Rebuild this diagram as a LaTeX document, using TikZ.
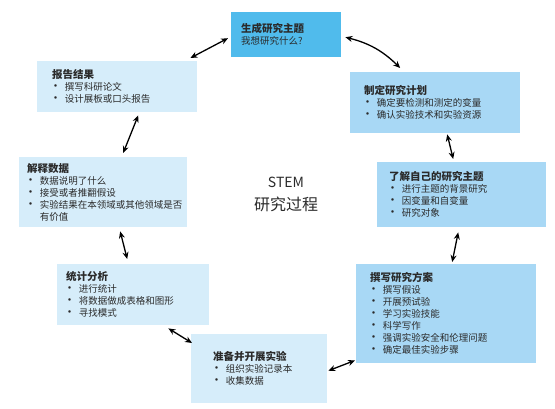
\documentclass[tikz,border=0pt]{standalone}
\usepackage{fontspec}
\setmainfont{Noto Sans CJK SC}
\usepackage{xcolor}
\usetikzlibrary{arrows.meta,calc}

\definecolor{topicblue}{HTML}{50BBEC}
\definecolor{midblue}{HTML}{A8D8F5}
\definecolor{paleblue}{HTML}{D6EDFA}
\definecolor{txtgray}{HTML}{2A2A2A}

\newcommand{\hd}[1]{{\fontsize{10.5}{12}\selectfont\bfseries #1}}
\newcommand{\itm}{\mbox{\kern-2.5pt\fontsize{12}{12}\selectfont\textbullet}~}

\begin{document}
\begin{tikzpicture}[x=1pt, y=-1pt,
  box/.style={anchor=north west, align=left, inner ysep=2pt, text=txtgray,
    font=\fontsize{9.5}{12}\selectfont},
  dbl/.style={{Stealth[length=7pt,width=6pt]}-{Stealth[length=7pt,width=6pt]}, line width=1.3pt, black}]
  \useasboundingbox (0,0) rectangle (555,408);
  % boxes of the cycle
  \node[box, fill=topicblue, text width=90pt, inner xsep=10pt, minimum height=45pt] (topic) at (231,12)
    {\hd{生成研究主题}\\我想研究什么?};
  \node[box, fill=midblue, text width=142pt, inner xsep=14pt, minimum height=61pt] (plan) at (350,72)
    {\hd{制定研究计划}\\\itm 确定要检测和测定的变量\\\itm 确认实验技术和实验资源};
  \node[box, fill=midblue, text width=145pt, inner xsep=12pt, minimum height=65pt] (study) at (377,162)
    {\hd{了解自己的研究主题}\\\itm 进行主题的背景研究\\\itm 因变量和自变量\\\itm 研究对象};
  \node[box, fill=midblue, text width=152pt, inner xsep=14pt, minimum height=99pt] (design) at (356,264)
    {\hd{撰写研究方案}\\\itm 撰写假设\\\itm 开展预试验\\\itm 学习实验技能\\\itm 科学写作\\\itm 强调实验安全和伦理问题\\\itm 确定最佳实验步骤};
  \node[box, fill=paleblue, text width=92pt, inner xsep=22pt, minimum height=69pt] (exp) at (191,334)
    {\hd{准备并开展实验}\\\itm 组织实验记录本\\\itm 收集数据};
  \node[box, fill=paleblue, text width=134pt, inner xsep=9pt, minimum height=61pt] (stat) at (57,264)
    {\hd{统计分析}\\\itm 进行统计\\\itm 将数据做成表格和图形\\\itm 寻找模式};
  \node[box, fill=paleblue, text width=152pt, inner xsep=8pt, minimum height=70pt] (interp) at (19,157)
    {\hd{解释数据}\\\itm 数据说明了什么\\\itm 接受或者推翻假设\\\itm 实验结果在本领域或其他领域是否\\\phantom{\itm}有价值};
  \node[box, fill=paleblue, text width=130pt, inner xsep=15pt, minimum height=51pt] (report) at (37,61)
    {\hd{报告结果}\\\itm 撰写科研论文\\\itm 设计展板或口头报告};
  % centre
  \node[font=\fontsize{14}{16}\selectfont, text=txtgray] (stem) at (286,182) {STEM};
  \node[font=\fontsize{16}{18}\selectfont, text=txtgray] (proc) at (286,204) {研究过程};
  % connectors
  \draw[dbl] ($(report.north east)+(-7,-3)$) -- ($(topic.west)+(-3,3.5)$);
  \draw[dbl] ($(topic.east)+(4,2.5)$) to[bend left=15] ($(plan.north)+(-35,-4)$);
  \draw[dbl] ($(plan.south)+(12,1)$) -- ($(study.north)+(-8.5,-3)$);
  \draw[dbl] ($(study.south)+(-3.5,5)$) -- ($(design.north)+(6,-2)$);
  \draw[dbl] ($(design.south west)+(-1,-3)$) -- ($(exp.east)+(1,2)$);
  \draw[dbl] ($(stat.south east)+(-41,3)$) -- ($(exp.north west)+(1,9)$);
  \draw[dbl] ($(interp.south)+(17,4)$) -- ($(stat.north)+(-6,-5)$);
  \draw[dbl] ($(report.south)+(21,3)$) -- ($(interp.north)+(20,-4)$);
\end{tikzpicture}
\end{document}
